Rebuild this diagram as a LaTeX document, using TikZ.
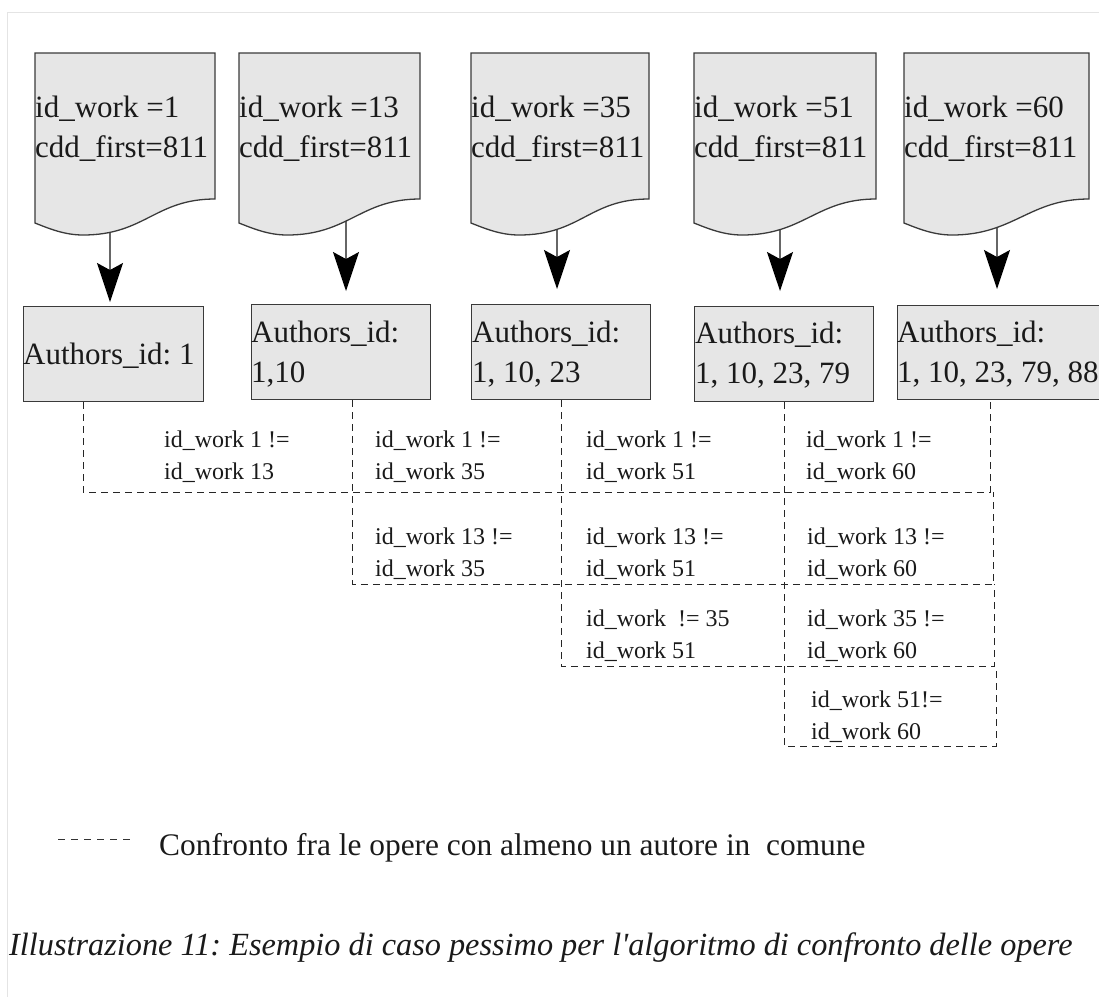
\documentclass[tikz,border=0pt]{standalone}
\usepackage{fontspec}
\setmainfont{Liberation Serif}
\usetikzlibrary{arrows.meta}
\definecolor{paper}{HTML}{E6E6E6}
\definecolor{edge}{HTML}{3A3A3A}
\definecolor{frame}{HTML}{E4E4E4}
\definecolor{ink}{HTML}{1A1A1A}
\tikzset{
  big/.style={font=\fontsize{31}{40}\selectfont, text=ink, inner sep=0pt, anchor=base west},
  small/.style={font=\fontsize{24}{32.5}\selectfont, text=ink, inner sep=0pt, anchor=base west},
  abox/.style={draw=edge, fill=paper, line width=1.3pt, anchor=north west, minimum height=95pt, inner sep=0pt},
  docshape/.style={draw=edge, fill=paper, line width=1.3pt},
  feed/.style={draw=black!60, line width=1.2pt, -{Stealth[length=39pt,width=26pt,inset=7pt,color=black]}},
  cmp/.style={draw=black!85, line width=1pt, dash pattern=on 7pt off 5pt},
}
\frenchspacing
\begin{document}
\begin{tikzpicture}[x=1pt,y=-1pt]
\useasboundingbox (0,0) rectangle (1099,997);
% page frame
\draw[frame, line width=1pt] (7,997) -- (7,12) -- (1099,12);

% feet of the document sheets, where the arrows leave
\coordinate (f1) at (110,230);
\coordinate (f2) at (346,210);
\coordinate (f3) at (557,215);
\coordinate (f4) at (780,215);
\coordinate (f5) at (997,215);

% authors boxes
\node[abox, minimum width=180pt] (a1) at (23,306) {};
\node[abox, minimum width=179pt] (a2) at (251,304) {};
\node[abox, minimum width=179pt] (a3) at (471,304) {};
\node[abox, minimum width=179pt] (a4) at (694,306) {};
\node[abox, minimum width=230pt, minimum height=94pt] (a5) at (897,305) {};

% arrows from each work to its authors
\draw[feed, shorten >=4pt]  (f1) -- (f1 |- a1.north);
\draw[feed, shorten >=13pt] (f2) -- (f2 |- a2.north);
\draw[feed, shorten >=15pt] (f3) -- (f3 |- a3.north);
\draw[feed, shorten >=15pt] (f4) -- (f4 |- a4.north);
\draw[feed, shorten >=16pt] (f5) -- (f5 |- a5.north);

% document sheets
\foreach \L/\R in {35/215, 239/420, 471/649, 694/876, 904/1089}{
  \draw[docshape] (\L,53) -- (\R,53) -- (\R,199)
    .. controls ({\R-60},199) and ({\L+110},235) .. ({\L+48},235)
    .. controls ({\L+30},235) and ({\L+15},229) .. (\L,223) -- cycle;
}

% work records
\node[big] (w1) at (35,117)  {\parbox[t]{200pt}{id\_work =1\\cdd\_first=811}};
\node[big] (w2) at (239,117) {\parbox[t]{200pt}{id\_work =13\\cdd\_first=811}};
\node[big] (w3) at (471,117) {\parbox[t]{200pt}{id\_work =35\\cdd\_first=811}};
\node[big] (w4) at (694,117) {\parbox[t]{200pt}{id\_work =51\\cdd\_first=811}};
\node[big] (w5) at (904,117) {\parbox[t]{200pt}{id\_work =60\\cdd\_first=811}};

% author lists
\node[big] (t1) at (23,364)  {Authors\_id: 1};
\node[big] (t2) at (251,342) {\parbox[t]{250pt}{Authors\_id:\\1,10}};
\node[big] (t3) at (472,342) {\parbox[t]{250pt}{Authors\_id:\\1, 10, 23}};
\node[big] (t4) at (695,343) {\parbox[t]{250pt}{Authors\_id:\\1, 10, 23, 79}};
\node[big] (t5) at (897,342) {\parbox[t]{250pt}{Authors\_id:\\1, 10, 23, 79, 88}};

% comparison rows
\coordinate (k1) at (83,0);
\coordinate (k2) at (352.5,0);
\coordinate (k3) at (561,0);
\coordinate (k4) at (784,0);
\coordinate (r1) at (990,492);
\coordinate (r2) at (993.5,584);
\coordinate (r3) at (994.5,666);
\coordinate (r4) at (996,746);
\draw[cmp] (a1.south -| k1) |- (r1) -- (r1 |- a5.south);
\draw[cmp] (a2.south -| k2) |- (r2) -- (r2 |- r1);
\draw[cmp] (a3.south -| k3) |- (r3) -- (r3 |- r2);
\draw[cmp] (a4.south -| k4) |- (r4) -- (r4 |- r3);

% comparison labels
\node[small] (c12) at (164,447) {\parbox[t]{200pt}{id\_work 1 !=\\id\_work 13}};
\node[small] (c13) at (375,447) {\parbox[t]{200pt}{id\_work 1 !=\\id\_work 35}};
\node[small] (c14) at (586,447) {\parbox[t]{200pt}{id\_work 1 !=\\id\_work 51}};
\node[small] (c15) at (806,447) {\parbox[t]{200pt}{id\_work 1 !=\\id\_work 60}};
\node[small] (c23) at (375,544) {\parbox[t]{200pt}{id\_work 13 !=\\id\_work 35}};
\node[small] (c24) at (586,544) {\parbox[t]{200pt}{id\_work 13 !=\\id\_work 51}};
\node[small] (c25) at (807,544) {\parbox[t]{200pt}{id\_work 13 !=\\id\_work 60}};
\node[small] (c34) at (586,626) {\parbox[t]{200pt}{id\_work \ != 35\\id\_work 51}};
\node[small] (c35) at (807,626) {\parbox[t]{200pt}{id\_work 35 !=\\id\_work 60}};
\node[small] (c45) at (811,707) {\parbox[t]{200pt}{id\_work 51!=\\id\_work 60}};

% legend
\coordinate (lg1) at (58,839);
\coordinate (lg2) at (133,839);
\draw[draw=black!80, line width=0.8pt, dash pattern=on 7pt off 6pt] (lg1) -- (lg2);
\node[big, font=\fontsize{31.4}{40}\selectfont] (legend) at (159,855)
  {Confronto fra le opere con almeno un autore in \ comune};

% caption
\node[big, font=\fontsize{32.3}{40}\selectfont\itshape] (caption) at (9,955)
  {Illustrazione 11: Esempio di caso pessimo per l\textquotesingle algoritmo di confronto delle opere};
\end{tikzpicture}
\end{document}
